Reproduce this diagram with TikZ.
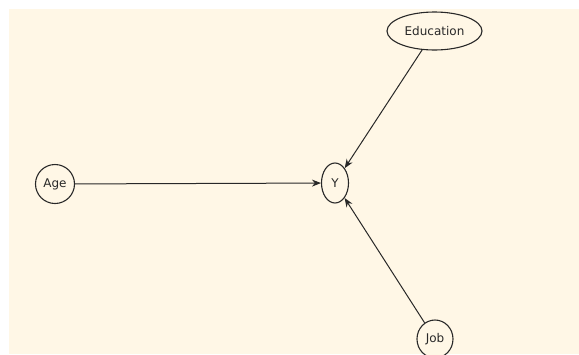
\documentclass[tikz,border=0pt]{standalone}
\usepackage{fontspec}
\setmainfont{DejaVu Sans}
\usetikzlibrary{arrows.meta,shapes.geometric}
\definecolor{cream}{RGB}{255,247,230}
\definecolor{edge}{RGB}{40,40,40}
\tikzset{
  var/.style={ellipse, draw=edge, line width=1.1pt, fill=cream, inner sep=0pt, font=\fontsize{12}{14}\selectfont, text=edge},
  link/.style={draw=edge, line width=1pt, -{Stealth[length=9pt,width=7pt]}}
}
\begin{document}
\begin{tikzpicture}[x=1pt,y=-1pt]
\useasboundingbox (0,0) rectangle (579,354);
\fill[white] (0,0) rectangle (579,354);
\fill[cream] (9,9) rectangle (579,354);
\node[var, minimum width=95pt, minimum height=38pt] (edu) at (434.5,31) {Education};
\node[var, minimum width=39pt, minimum height=39pt] (age) at (55,184) {Age};
\node[var, minimum width=27pt, minimum height=40pt] (y) at (335,183) {Y};
\node[var, minimum width=36pt, minimum height=38pt] (job) at (435,339) {Job};
\draw[link] (age) -- (y);
\draw[link] (edu) -- (y);
\draw[link] (job) -- (y);
\end{tikzpicture}
\end{document}
